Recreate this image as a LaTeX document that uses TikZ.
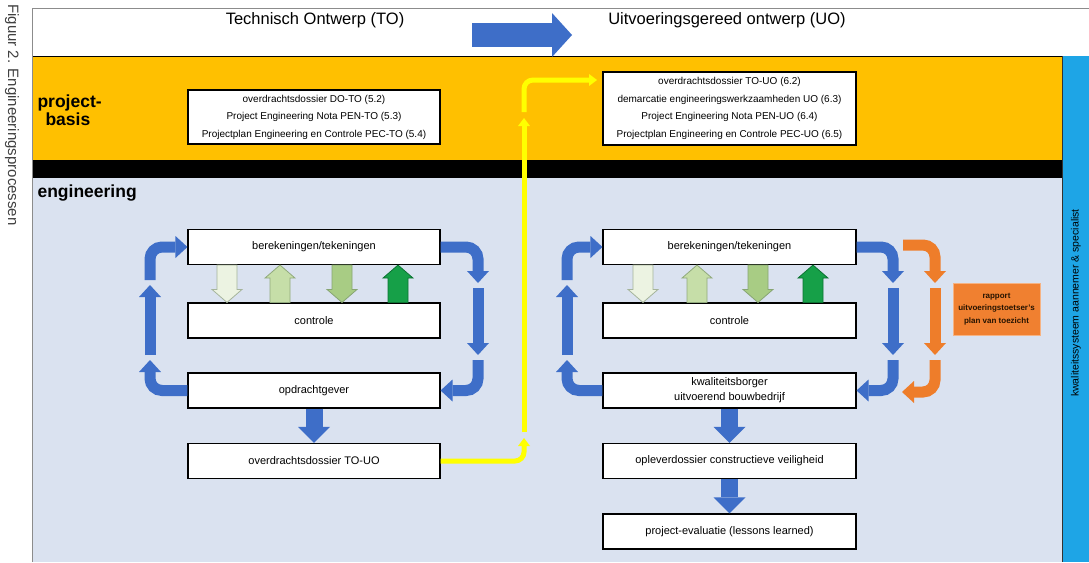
\documentclass[tikz,border=0pt]{standalone}
\usepackage{fontspec}
\setmainfont{Liberation Sans}
\usetikzlibrary{arrows.meta,calc}
\definecolor{blueA}{RGB}{62,110,200}
\definecolor{orangeA}{RGB}{238,125,42}
\definecolor{orangeBox}{RGB}{240,128,48}
\definecolor{bandY}{RGB}{255,192,0}
\definecolor{engBg}{RGB}{218,226,240}
\definecolor{bandB}{RGB}{30,165,230}
\definecolor{yelA}{RGB}{255,255,0}
\definecolor{gOneF}{RGB}{236,243,226}
\definecolor{gOneD}{RGB}{165,180,155}
\definecolor{gTwoF}{RGB}{198,222,168}
\definecolor{gTwoD}{RGB}{145,170,125}
\definecolor{gThrF}{RGB}{168,204,132}
\definecolor{gThrD}{RGB}{135,165,115}
\definecolor{gFouF}{RGB}{22,160,72}
\definecolor{gFouD}{RGB}{12,115,50}
\begin{document}
\begin{tikzpicture}[x=1pt,y=-1pt,
  box/.style={draw=black, line width=1.1pt, fill=white, minimum width=252pt,
    minimum height=35pt, inner sep=0pt, align=center,
    font=\fontsize{11}{15}\selectfont},
  pbox/.style={draw=black, line width=1.1pt, fill=white, minimum width=252pt,
    inner sep=0pt, align=center, font=\fontsize{10}{17.5}\selectfont},
  cyc/.style={draw=#1, line width=11pt, rounded corners=12pt,
    -{Triangle[width=22pt,length=12pt,line width=0pt]}},
  cyc/.default=blueA,
  downarrow/.style={draw=blueA, line width=17pt,
    -{Triangle[width=32pt,length=16pt,line width=0pt]}},
  yel/.style={draw=yelA, line width=5pt, rounded corners=9pt,
    -{Triangle[width=12pt,length=8pt,line width=0pt]}},
  garrow/.style n args={2}{fill=#1, draw=#2, line width=0.8pt,
    to path={let \p1=(\tikztostart), \p2=(\tikztotarget),
      \n1={ifthenelse(\y2>\y1,1,-1)} in
      (\x1-10pt,\y1) -- (\x1-10pt,\y2-13pt*\n1) -- (\x1-15pt,\y2-13pt*\n1)
      -- (\x1,\y2) -- (\x1+15pt,\y2-13pt*\n1) -- (\x1+10pt,\y2-13pt*\n1)
      -- (\x1+10pt,\y1) -- cycle}},
  lbl/.style={font=\fontsize{17.5}{21}\selectfont\bfseries, anchor=west, align=left}
]
\useasboundingbox (0,0) rectangle (1089,562);
% bands
\fill[white] (0,0) rectangle (1089,562);
\draw[fill=white, draw=black!45, line width=1pt] (32,8) rectangle (1089,56);
\fill[bandY] (32,56) rectangle (1062,160);
\fill[black] (32,160) rectangle (1062,178);
\fill[engBg] (32,178) rectangle (1062,562);
\draw[black, line width=1pt] (32,56) -- (1062,56);
\fill[bandB] (1062,56) rectangle (1089,562);
\draw[black!80, line width=1pt] (1062,56) -- (1062,562);
\draw[black!45, line width=1pt] (32,8) -- (32,562);

% caption and titles
\node[rotate=-90, anchor=west, inner sep=0pt, text=black!75,
  font=\fontsize{15}{18}\selectfont] (cap) at (12,4) {Figuur 2. Engineeringsprocessen};
\node[font=\fontsize{16.5}{20}\selectfont] (tTO) at (315,20) {Technisch Ontwerp (TO)};
\node[font=\fontsize{16.5}{20}\selectfont] (tUO) at (727,20) {Uitvoeringsgereed ontwerp (UO)};
\coordinate (ta) at (472,35);
\coordinate (tb) at (572,35);
\draw[draw=blueA, line width=24pt, -{Triangle[width=44pt,length=20pt,line width=0pt]}] (ta) -- (tb);

\node[lbl] (lpb) at (34,110) {project-\\[-3pt]\hspace*{8pt}basis};
\node[lbl] (leng) at (34,193) {engineering};

% project basis boxes
\node[pbox, minimum height=54pt] (pbL) at (314,117)
  {overdrachtsdossier DO-TO (5.2)\\Project Engineering Nota PEN-TO (5.3)\\Projectplan Engineering en Controle PEC-TO (5.4)};
\node[pbox, minimum height=73pt, minimum width=253pt] (pbR) at (729.5,108.5)
  {overdrachtsdossier TO-UO (6.2)\\demarcatie engineeringswerkzaamheden UO (6.3)\\Project Engineering Nota PEN-UO (6.4)\\Projectplan Engineering en Controle PEC-UO (6.5)};

% left engineering boxes
\node[box] (bbL) at (314,247) {berekeningen/tekeningen};
\node[box] (ctL) at (314,320.5) {controle};
\node[box] (ogL) at (314,390.5) {opdrachtgever};
\node[box] (odL) at (314,461) {overdrachtsdossier TO-UO};
% right engineering boxes
\node[box, minimum width=253pt] (bbR) at (729.5,247) {berekeningen/tekeningen};
\node[box, minimum width=253pt] (ctR) at (729.5,320.5) {controle};
\node[box, minimum width=253pt, font=\fontsize{11}{15}\selectfont] (kbR) at (729.5,390.5) {kwaliteitsborger\\uitvoerend bouwbedrijf};
\node[box, minimum width=253pt] (ovR) at (729.5,461) {opleverdossier constructieve veiligheid};
\node[box, minimum width=253pt] (peR) at (729.5,531.5) {project-evaluatie (lessons learned)};

\node[fill=orangeBox, draw=orangeBox!60!white, line width=0.6pt, minimum width=87pt,
  minimum height=52pt, align=center, text=black!85!orange,
  font=\fontsize{8}{12.5}\selectfont\bfseries] (rap) at (996.5,309)
  {rapport\\uitvoeringstoetser's\\plan van toezicht};

\node[rotate=90, text={RGB:red,20;green,30;blue,80}, font=\fontsize{10.5}{12}\selectfont] (qs) at (1076,303)
  {kwaliteitssysteem aannemer \& specialist};

% green arrows left
\draw[garrow={gOneF}{gOneD}] (227,0 |- bbL.south) to (227,0 |- ctL.north);
\draw[garrow={gTwoF}{gTwoD}] (280,0 |- ctL.north) to (280,0 |- bbL.south);
\draw[garrow={gThrF}{gThrD}] (342,0 |- bbL.south) to (342,0 |- ctL.north);
\draw[garrow={gFouF}{gFouD}] (398,0 |- ctL.north) to (398,0 |- bbL.south);
% green arrows right
\draw[garrow={gOneF}{gOneD}] (643,0 |- bbR.south) to (643,0 |- ctR.north);
\draw[garrow={gTwoF}{gTwoD}] (697,0 |- ctR.north) to (697,0 |- bbR.south);
\draw[garrow={gThrF}{gThrD}] (758,0 |- bbR.south) to (758,0 |- ctR.north);
\draw[garrow={gFouF}{gFouD}] (813,0 |- ctR.north) to (813,0 |- bbR.south);

% left cycle
\coordinate (lA) at (150,280);
\coordinate (lB1) at (150,355); \coordinate (lB2) at (150,285);
\coordinate (lC) at (150,360);
\coordinate (lD) at (478,283);
\coordinate (lE1) at (478,288); \coordinate (lE2) at (478,355);
\coordinate (lF) at (478,360);
\draw[cyc] (lA) |- (bbL.west);
\draw[cyc] (lB1) -- (lB2);
\draw[cyc] (ogL.west) -| (lC);
\draw[cyc] (bbL.east) -| (lD);
\draw[cyc] (lE1) -- (lE2);
\draw[cyc] (lF) |- (ogL.east);

% right cycle
\coordinate (rA) at (567,280);
\coordinate (rB1) at (567,355); \coordinate (rB2) at (567,285);
\coordinate (rC) at (567,360);
\coordinate (rD) at (893,283);
\coordinate (rE1) at (893,288); \coordinate (rE2) at (893,355);
\coordinate (rF) at (893,360);
\draw[cyc] (rA) |- (bbR.west);
\draw[cyc] (rB1) -- (rB2);
\draw[cyc] (kbR.west) -| (rC);
\draw[cyc] (bbR.east) -| (rD);
\draw[cyc] (rE1) -- (rE2);
\draw[cyc] (rF) |- (kbR.east);

% orange cycle
\coordinate (oS) at (903,245);
\coordinate (oD) at (935,283);
\coordinate (oE1) at (935,288); \coordinate (oE2) at (935,355);
\coordinate (oF) at (935,360);
\coordinate (oT) at (902,392);
\draw[cyc=orangeA] (oS) -| (oD);
\draw[cyc=orangeA] (oE1) -- (oE2);
\draw[cyc=orangeA] (oF) |- (oT);

% down arrows
\draw[downarrow] (ogL.south) -- (odL.north);
\draw[downarrow] (kbR.south) -- (ovR.north);
\draw[downarrow] (ovR.south) -- (peR.north);

% yellow transfer
\coordinate (y1) at (524,438);
\coordinate (y2a) at (524,432); \coordinate (y2b) at (524,118);
\coordinate (y3a) at (524,112); \coordinate (y3b) at (597,80);
\draw[yel] (odL.east) -| (y1);
\draw[yel] (y2a) -- (y2b);
\draw[yel] (y3a) |- (y3b);
\end{tikzpicture}
\end{document}
